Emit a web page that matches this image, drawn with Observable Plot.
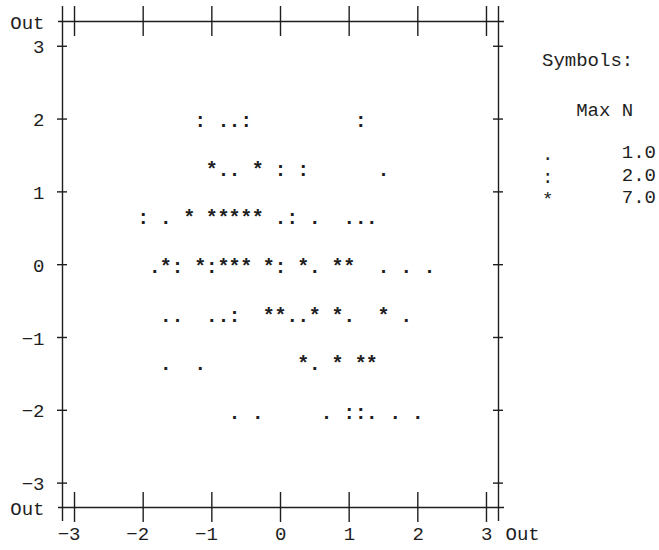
<!DOCTYPE html>
<html>
<head>
<meta charset="utf-8">
<script src="https://cdn.jsdelivr.net/npm/d3@7"></script>
<script src="https://cdn.jsdelivr.net/npm/@observablehq/plot@0.6"></script>
<style>
  html, body { margin: 0; padding: 0; background: #fff; }
  #chart svg { display: block; }
</style>
</head>
<body>
<div id="chart"></div>
<script>
// ---- data ----
const pointX = [
  // y = 2
  -1.17, -0.83, -0.67, -0.50, 1.17,
  // y = 1.33
  -1.00, -0.83, -0.67, -0.33, 0.00, 0.33, 1.50,
  // y = 0.67
  -2.00, -1.67, -1.33, -1.00, -0.83, -0.67, -0.50, -0.33, 0.00, 0.17, 0.50, 1.00, 1.17, 1.33,
  // y = 0
  -1.83, -1.67, -1.50, -1.17, -1.00, -0.83, -0.67, -0.50, -0.17, 0.00, 0.33, 0.50, 0.83, 1.00, 1.50, 1.83, 2.17,
  // y = -0.67
  -1.67, -1.50, -1.00, -0.83, -0.67, -0.17, 0.00, 0.17, 0.33, 0.50, 0.83, 1.00, 1.50, 1.83,
  // y = -1.33
  -1.67, -1.17, 0.33, 0.50, 0.83, 1.17, 1.33,
  // y = -2
  -0.67, -0.33, 0.67, 1.00, 1.17, 1.33, 1.67, 2.00
];
const pointY = [
  2, 2, 2, 2, 2,
  1.33, 1.33, 1.33, 1.33, 1.33, 1.33, 1.33,
  0.67, 0.67, 0.67, 0.67, 0.67, 0.67, 0.67, 0.67, 0.67, 0.67, 0.67, 0.67, 0.67, 0.67,
  0, 0, 0, 0, 0, 0, 0, 0, 0, 0, 0, 0, 0, 0, 0, 0, 0,
  -0.67, -0.67, -0.67, -0.67, -0.67, -0.67, -0.67, -0.67, -0.67, -0.67, -0.67, -0.67, -0.67, -0.67,
  -1.33, -1.33, -1.33, -1.33, -1.33, -1.33, -1.33,
  -2, -2, -2, -2, -2, -2, -2, -2
];
const pointSymbol = [
  ":", ".", ".", ":", ":",
  "*", ".", ".", "*", ":", ":", ".",
  ":", ".", "*", "*", "*", "*", "*", "*", ".", ":", ".", ".", ".", ".",
  ".", "*", ":", "*", ":", "*", "*", "*", "*", ":", "*", ".", "*", "*", ".", ".", ".",
  ".", ".", ".", ".", ":", "*", "*", ".", ".", "*", "*", ".", "*", ".",
  ".", ".", "*", ".", "*", "*", "*",
  ".", ".", ".", ":", ":", ".", ".", "."
];
const xTicks = [-3, -2, -1, 0, 1, 2, 3];
const yTicks = [-3, -2, -1, 0, 1, 2, 3];
const xOut = [-3.175, 3.175];   // "Out" positions on x
const yOut = [-3.335, 3.34];    // "Out" positions on y
const outLabel = "Out";
const legendTitle = "Symbols:";
const legendHeader = "Max N";
const legendSymbols = [".", ":", "*"];
const legendMaxN = ["1.0", "2.0", "7.0"];

// ---- build ----
const points = pointX.map((x, i) => ({x, y: pointY[i], s: pointSymbol[i]}));
const fmt = d => d < 0 ? "\u2212" + Math.abs(d) : String(d);
const ink = "#1e1e1e";
const lineStyle = {stroke: ink, strokeWidth: 1.4};

const chart = Plot.plot({
  width: 659,
  height: 550,
  marginLeft: 62,
  marginRight: 161,
  marginTop: 21,
  marginBottom: 43,
  x: {domain: xOut, axis: null},
  y: {domain: yOut, axis: null},
  style: {
    fontFamily: "'Liberation Mono', 'DejaVu Sans Mono', monospace",
    fontSize: "19px",
    color: ink,
    background: "#fff"
  },
  marks: [
    // frame (the "Out" lines)
    Plot.ruleX(xOut, {x: d => d, ...lineStyle, insetTop: -15, insetBottom: -14}),
    Plot.ruleY(yOut, {y: d => d, ...lineStyle, insetLeft: -4, insetRight: -6}),
    // x ticks on top and bottom lines
    Plot.ruleX(xTicks, {x: d => d, y1: () => yOut[1], y2: () => yOut[1], ...lineStyle, insetTop: -15, insetBottom: -15}),
    Plot.ruleX(xTicks, {x: d => d, y1: () => yOut[0], y2: () => yOut[0], ...lineStyle, insetTop: -15, insetBottom: -15}),
    // y ticks on left and right lines
    Plot.ruleY(yTicks, {y: d => d, x1: () => xOut[0], x2: () => xOut[0], ...lineStyle, insetLeft: -5, insetRight: -5}),
    Plot.ruleY(yTicks, {y: d => d, x1: () => xOut[1], x2: () => xOut[1], ...lineStyle, insetLeft: -5, insetRight: -5}),
    // y tick labels
    Plot.text(yTicks, {y: d => d, frameAnchor: "left", text: fmt, textAnchor: "end", dx: -18, dy: 1, fill: ink}),
    Plot.text(yOut, {y: d => d, frameAnchor: "left", text: () => outLabel, textAnchor: "end", dx: -18, dy: 1, fill: ink}),
    // x tick labels
    Plot.text(xTicks, {x: d => d, frameAnchor: "bottom", text: fmt, textAnchor: "end", dx: 6, dy: 32, fill: ink}),
    Plot.text([outLabel], {frameAnchor: "bottom-right", text: d => d, textAnchor: "start", dx: 7, dy: 32, fill: ink}),
    // data symbols
    Plot.text(points, {x: "x", y: "y", text: "s", dy: 2, fill: ink, fontWeight: "bold", fontSize: 20}),
    // legend
    Plot.text([legendTitle], {frameAnchor: "top-right", text: d => d, textAnchor: "start", dx: 43.5, dy: 31, fill: ink}),
    Plot.text([legendHeader], {frameAnchor: "top-right", text: d => d, textAnchor: "start", dx: 77.7, dy: 81, fill: ink}),
    Plot.text([legendSymbols.join("\n")], {frameAnchor: "top-right", text: d => d, textAnchor: "start", lineHeight: 1.18, dx: 43.5, dy: 123, fill: ink}),
    Plot.text([legendMaxN.join("\n")], {frameAnchor: "top-right", text: d => d, textAnchor: "start", lineHeight: 1.18, dx: 123.3, dy: 121, fill: ink})
  ]
});
document.getElementById("chart").appendChild(chart);
</script>
</body>
</html>
